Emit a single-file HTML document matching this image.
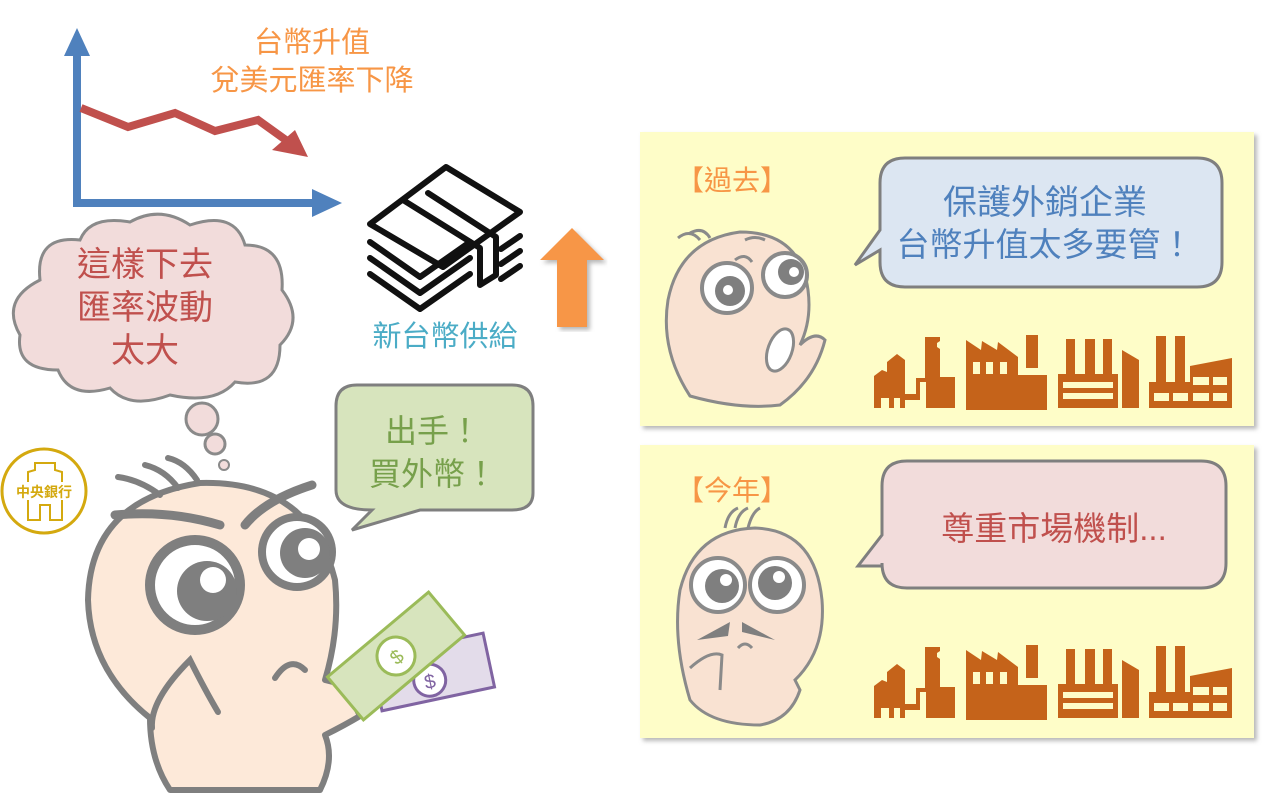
<!DOCTYPE html>
<html><head><meta charset="utf-8"><style>
html,body{margin:0;padding:0;background:#fff;}
svg{display:block;}
text{font-family:"Liberation Sans","Noto Sans CJK TC",sans-serif;}
</style></head><body>
<svg width="1266" height="800" viewBox="0 0 1266 800" xmlns="http://www.w3.org/2000/svg">
<defs>
<filter id="sh" x="-5%" y="-5%" width="110%" height="110%"><feDropShadow dx="3" dy="3" stdDeviation="2" flood-color="#888" flood-opacity="0.6"/></filter>
<g id="fac" fill="#c5631a">
  <path d="M14,78 L14,46 L22,40 L27,42 L27,32 L37,24 L45,30 L45,64 L56,64 L56,48 L65,48 L65,7 L80,7 L80,11 L77,13 L77,17 L80,19 L80,47 L95,47 L95,78 L66,78 L66,52 L60,52 L60,70 L45,70 L45,78 L40,78 L40,68 L34,68 L34,78 L29,78 L29,68 L21,68 L21,78 Z"/>
  <path d="M106,80 L106,10 L121,20 L122,11 L137,20 L138,12 L158,27 L158,45 L187,45 L187,80 Z"/>
  <rect x="166" y="5" width="12" height="33"/>
  <g fill="#fefcc8"><rect x="113" y="32" width="7" height="12"/><rect x="126" y="32" width="7" height="12"/><rect x="140" y="32" width="7" height="12"/></g>
  <path d="M198,78 L198,44 L206,44 L206,9 L215,9 L215,44 L225,44 L225,9 L235,9 L235,44 L243,44 L243,9 L252,9 L252,44 L258,44 L258,78 Z"/>
  <path d="M262,78 L262,20 L279,30 L279,78 Z"/>
  <g fill="#fefcc8"><rect x="203" y="52" width="50" height="6"/><rect x="203" y="63" width="50" height="6"/></g>
  <path d="M289,78 L289,52 L296,52 L296,6 L306,6 L306,52 L315,52 L315,6 L325,6 L325,52 L330,52 L330,36 L372,28 L372,78 Z"/>
  <g fill="#fefcc8"><rect x="333" y="47" width="16" height="8"/><rect x="353" y="47" width="14" height="8"/><rect x="294" y="63" width="15" height="8"/><rect x="313" y="63" width="15" height="8"/><rect x="333" y="63" width="16" height="8"/><rect x="353" y="63" width="14" height="8"/></g>
</g>
</defs>

<!-- panels -->
<rect x="640" y="132" width="614" height="294" fill="#fefdc8" filter="url(#sh)"/>
<rect x="640" y="445" width="614" height="293" fill="#fefdc8" filter="url(#sh)"/>

<!-- top panel -->
<text x="732" y="190" font-size="28" fill="#f79646" text-anchor="middle">【過去】</text>
<path d="M905,158 H1197 Q1222,158 1222,183 V262 Q1222,287 1197,287 H905 Q880,287 880,262 V250 L855,265 L880,230 V183 Q880,158 905,158 Z" fill="#dce6f2" stroke="#7f7f7f" stroke-width="3"/>
<text x="1045" y="214" font-size="34" fill="#4f81bd" text-anchor="middle">保護外銷企業</text>
<text x="1045" y="256" font-size="33" fill="#4f81bd" text-anchor="middle">台幣升值太多要管！</text>
<use href="#fac" x="860" y="330"/>
<!-- top small guy -->
<path d="M690,396 Q660,350 668,300 Q680,240 740,232 Q800,232 808,290 Q812,320 800,345 Q815,330 825,340 Q815,380 780,405 Q740,410 690,396 Z" fill="#f9e2d2" stroke="#8a8a8a" stroke-width="3"/>
<path d="M678,238 Q690,228 700,240 M690,233 Q703,226 710,238 M745,240 Q755,235 765,240" fill="none" stroke="#8a8a8a" stroke-width="3"/>
<circle cx="727" cy="288" r="25" fill="#fff" stroke="#8a8a8a" stroke-width="4"/>
<circle cx="730" cy="291" r="15" fill="#7f7f7f"/><circle cx="728" cy="290" r="5" fill="#fff"/>
<circle cx="785" cy="275" r="22" fill="#fff" stroke="#8a8a8a" stroke-width="4"/>
<circle cx="791" cy="272" r="13" fill="#7f7f7f"/><circle cx="794" cy="272" r="5" fill="#fff"/>
<ellipse cx="780" cy="350" rx="12" ry="22" fill="#fff" stroke="#8a8a8a" stroke-width="3" transform="rotate(20 780 350)"/>
<path d="M735,260 Q745,252 752,262" fill="none" stroke="#8a8a8a" stroke-width="3"/>

<!-- bottom panel -->
<text x="732" y="500" font-size="28" fill="#f79646" text-anchor="middle">【今年】</text>
<path d="M907,461 H1201 Q1226,461 1226,486 V563 Q1226,588 1201,588 H907 Q882,588 882,563 V566 L858,566 L882,535 V486 Q882,461 907,461 Z" fill="#f2dcdb" stroke="#7f7f7f" stroke-width="3"/>
<text x="1054" y="540" font-size="33" fill="#c0504d" text-anchor="middle">尊重市場機制...</text>
<use href="#fac" x="860" y="640"/>
<!-- bottom small guy -->
<path d="M690,700 Q672,640 680,590 Q695,530 755,528 Q815,530 822,600 Q826,650 795,680 L800,690 Q790,720 760,725 Q710,725 690,700 Z" fill="#f9e2d2" stroke="#8a8a8a" stroke-width="3"/>
<path d="M725,528 Q728,512 738,508 M735,528 Q738,512 748,508 M748,528 Q752,512 760,508" fill="none" stroke="#8a8a8a" stroke-width="3"/>
<circle cx="718" cy="585" r="27" fill="#fff" stroke="#8a8a8a" stroke-width="4"/>
<circle cx="722" cy="586" r="17" fill="#7f7f7f"/><circle cx="726" cy="580" r="6" fill="#fff"/>
<circle cx="777" cy="585" r="27" fill="#fff" stroke="#8a8a8a" stroke-width="4"/>
<circle cx="775" cy="583" r="17" fill="#7f7f7f"/><circle cx="779" cy="577" r="6" fill="#fff"/>
<path d="M697,640 L730,622 L728,636 Z M742,622 L775,640 L742,632 Z" fill="#7f7f7f"/>
<path d="M738,648 Q745,640 752,648 M690,668 Q710,650 722,655 L720,690" fill="none" stroke="#8a8a8a" stroke-width="3"/>

<!-- chart -->
<g stroke="#4f81bd" stroke-width="8" fill="none"><path d="M77,52 V203 H318"/></g>
<path d="M64,56 L77,28 L90,56 Z M312,189 L342,203 L312,217 Z" fill="#4f81bd"/>
<polyline points="81,108 128,127 175,113 215,131 258,120 290,143" fill="none" stroke="#c0504d" stroke-width="8"/>
<path d="M272,150 L295,130 L308,157 Z" fill="#c0504d"/>
<text x="312" y="52" font-size="29" fill="#f79646" text-anchor="middle">台幣升值</text>
<text x="312" y="90" font-size="29" fill="#f79646" text-anchor="middle">兌美元匯率下降</text>

<!-- money stack -->
<g fill="none" stroke="#111" stroke-width="6" stroke-linejoin="round" stroke-linecap="round" transform="translate(58,2)">
<path d="M312,222 L388,165 L462,210 L385,265 Z"/>
<path d="M345,198 L422,246 L422,283 L438,273 L438,235 L370,191"/>
<path d="M312,240 L362,275 L412,240 M312,256 L362,291 L412,256 M312,272 L362,307 L412,272"/>
<path d="M443,247 L462,234 M443,262 L462,249 M443,277 L462,264"/>
</g>
<text x="445" y="346" font-size="29" fill="#4bacc6" text-anchor="middle">新台幣供給</text>
<!-- orange arrow -->
<path d="M557,327 V260 H540 L572,228 L604,260 H587 V327 Z" fill="#f79646" filter="url(#sh)"/>

<!-- cloud -->
<path d="M40,280 Q35,235 80,240 Q90,215 130,222 Q160,205 190,225 Q235,210 245,245 Q285,245 282,290 Q305,320 280,345 Q280,390 235,382 Q215,405 170,395 Q130,410 110,388 Q70,400 58,370 Q15,370 20,335 Q0,300 40,280 Z" fill="#f2dcdb" stroke="#8a8a8a" stroke-width="3"/>
<text x="145" y="276" font-size="34" fill="#c0504d" text-anchor="middle">這樣下去</text>
<text x="145" y="319" font-size="34" fill="#c0504d" text-anchor="middle">匯率波動</text>
<text x="145" y="362" font-size="34" fill="#c0504d" text-anchor="middle">太大</text>
<circle cx="202" cy="419" r="16" fill="#f2dcdb" stroke="#8a8a8a" stroke-width="3"/>
<circle cx="215" cy="444" r="10" fill="#f2dcdb" stroke="#8a8a8a" stroke-width="3"/>
<circle cx="224" cy="465" r="5" fill="#f2dcdb" stroke="#8a8a8a" stroke-width="2"/>

<!-- green bubble -->
<path d="M357,385 H512 Q533,385 533,406 V493 Q533,510 512,510 H420 L352,530 L372,510 Q336,510 336,490 V406 Q336,385 357,385 Z" fill="#d7e4bd" stroke="#7f7f7f" stroke-width="3"/>
<text x="433" y="442" font-size="32" fill="#77a04b" text-anchor="middle">出手！</text>
<text x="433" y="485" font-size="32" fill="#77a04b" text-anchor="middle">買外幣！</text>

<!-- logo -->
<circle cx="44" cy="491" r="42" fill="#fff" stroke="#d4a90f" stroke-width="3"/>
<path d="M28,482 V472 L35,470 V463 H55 V470 L62,472 V482 M28,500 V520 H40 V505 H50 V520 H62 V500" fill="none" stroke="#d4a90f" stroke-width="2"/>
<text x="44" y="497" font-size="14" font-weight="bold" fill="#d4a90f" text-anchor="middle">中央銀行</text>

<!-- big guy -->
<path d="M150,718 Q90,670 88,600 Q90,500 200,483 Q310,480 335,580 Q340,630 325,680 L345,685 L360,716 Q345,725 325,735 Q335,760 320,790 L170,790 Q150,760 150,718 Z" fill="#fde9d9" stroke="#7f7f7f" stroke-width="6" stroke-linejoin="round"/>
<path d="M152,728 Q150,700 190,660 Q205,690 218,712" fill="none" stroke="#7f7f7f" stroke-width="6" stroke-linecap="round"/>
<path d="M275,678 Q290,655 305,670" fill="none" stroke="#7f7f7f" stroke-width="6" stroke-linecap="round"/>
<path d="M118,477 Q140,480 160,495 M145,465 Q165,470 178,488 M168,458 Q185,462 197,480" fill="none" stroke="#7f7f7f" stroke-width="6" stroke-linecap="round"/>
<path d="M115,515 Q170,510 220,525 M245,525 Q265,500 312,485" fill="none" stroke="#7f7f7f" stroke-width="9" stroke-linecap="round"/>
<circle cx="195" cy="585" r="45" fill="#fff" stroke="#7f7f7f" stroke-width="10"/>
<circle cx="207" cy="591" r="30" fill="#7f7f7f"/><circle cx="213" cy="580" r="13" fill="#fff"/>
<circle cx="297" cy="552" r="35" fill="#fff" stroke="#7f7f7f" stroke-width="8"/>
<circle cx="305" cy="553" r="25" fill="#7f7f7f"/><circle cx="309" cy="549" r="11" fill="#fff"/>
<!-- bills -->
<g transform="rotate(-12 430 672)"><rect x="375" y="645" width="115" height="55" fill="#e3dcea" stroke="#8064a2" stroke-width="3"/><circle cx="428" cy="680" r="16" fill="#fff" stroke="#8064a2" stroke-width="3"/><text x="428" y="688" font-size="20" fill="#8064a2" text-anchor="middle">$</text></g>
<g transform="rotate(-40 396 656)"><rect x="330" y="628" width="132" height="56" fill="#d7e4bd" stroke="#9bbb59" stroke-width="3"/><circle cx="396" cy="656" r="19" fill="#fff" stroke="#9bbb59" stroke-width="3"/><text x="396" y="664" font-size="20" fill="#9bbb59" text-anchor="middle">$</text></g>
</svg>
</body></html>
